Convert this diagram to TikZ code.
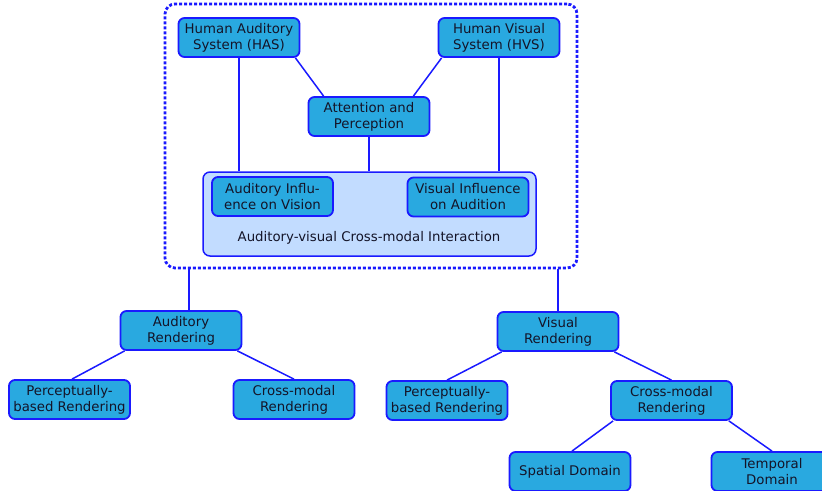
\documentclass[tikz,border=0pt]{standalone}
\usepackage{fontspec}
\setmainfont{DejaVu Sans}
\usetikzlibrary{calc}
\definecolor{nodefill}{HTML}{29A9E0}
\definecolor{nodeline}{HTML}{1A1AFF}
\definecolor{lightfill}{HTML}{C2DCFF}
\definecolor{txt}{HTML}{141428}
\tikzset{
  box/.style={draw=nodeline, fill=nodefill, line width=1.8pt, rounded corners=6pt,
    minimum width=121pt, minimum height=39pt, inner sep=0pt, align=center,
    text=txt, font=\fontsize{13.3}{16}\selectfont},
  conn/.style={draw=nodeline, line width=1.5pt},
  outerbox/.style={draw=nodeline, line width=2.8pt, dash pattern=on 3pt off 2pt,
    rounded corners=10pt, minimum width=412pt, minimum height=264pt, inner sep=0pt},
  interbox/.style={draw=nodeline, fill=lightfill, line width=1.5pt, rounded corners=7pt,
    minimum width=333pt, minimum height=84pt, inner sep=0pt},
  caption/.style={text=txt, font=\fontsize{13.3}{16}\selectfont, inner sep=0pt}
}
\begin{document}
\begin{tikzpicture}[x=1pt,y=-1pt]
\useasboundingbox (0,0) rectangle (822,490);
\clip (0,0) rectangle (822,490);
\node[outerbox] (outer) at (371,136) {};
\node[interbox] (inter) at (369.5,214) {};
\node[caption] (cap) at (369,238) {Auditory-visual Cross-modal Interaction};
\node[box] (has) at (239,37.5) {Human Auditory\\System (HAS)};
\node[box] (hvs) at (499,37.5) {Human Visual\\System (HVS)};
\node[box] (att) at (369,116.5) {Attention and\\Perception};
\node[box] (audinf) at (272.5,196.5) {Auditory Influ-\\ence on Vision};
\node[box] (visinf) at (468,197) {Visual Influence\\on Audition};
\node[box] (audrend) at (181,330.5) {Auditory\\Rendering};
\node[box] (percL) at (69.5,399.5) {Perceptually-\\based Rendering};
\node[box] (crossL) at (294,399.5) {Cross-modal\\Rendering};
\node[box] (visrend) at (558,331.5) {Visual\\Rendering};
\node[box] (percR) at (447,400.5) {Perceptually-\\based Rendering};
\node[box] (crossR) at (671.5,400.5) {Cross-modal\\Rendering};
\node[box] (spatial) at (570,471.5) {Spatial Domain};
\node[box] (temporal) at (772,471.5) {Temporal\\Domain};
% connectors
\draw[conn] (has.south) -- (has.south |- inter.north);
\draw[conn] (hvs.south) -- (hvs.south |- inter.north);
\draw[conn] (att.south) -- (att.south |- inter.north);
\draw[conn] ($(has.south east)+(-5,0)$) -- ($(att.north west)+(16,0)$);
\draw[conn] ($(hvs.south west)+(4,0)$) -- ($(att.north east)+(-17,0)$);
\draw[conn] ($(audrend.north)+(8,0)$) coordinate (a1) -- (a1 |- outer.south);
\draw[conn] (visrend.north) -- (visrend.north |- outer.south);
\draw[conn] ($(audrend.south west)+(5,0)$) -- ($(percL.north)+(2.5,0)$);
\draw[conn] ($(audrend.south east)+(-5,0)$) -- (crossL.north);
\draw[conn] ($(visrend.south west)+(5,0)$) -- (percR.north);
\draw[conn] ($(visrend.south east)+(-5,0)$) -- (crossR.north);
\draw[conn] ($(crossR.south west)+(3,0)$) -- ($(spatial.north)+(2,0)$);
\draw[conn] ($(crossR.south east)+(-4,0)$) -- (temporal.north);
\end{tikzpicture}
\end{document}
